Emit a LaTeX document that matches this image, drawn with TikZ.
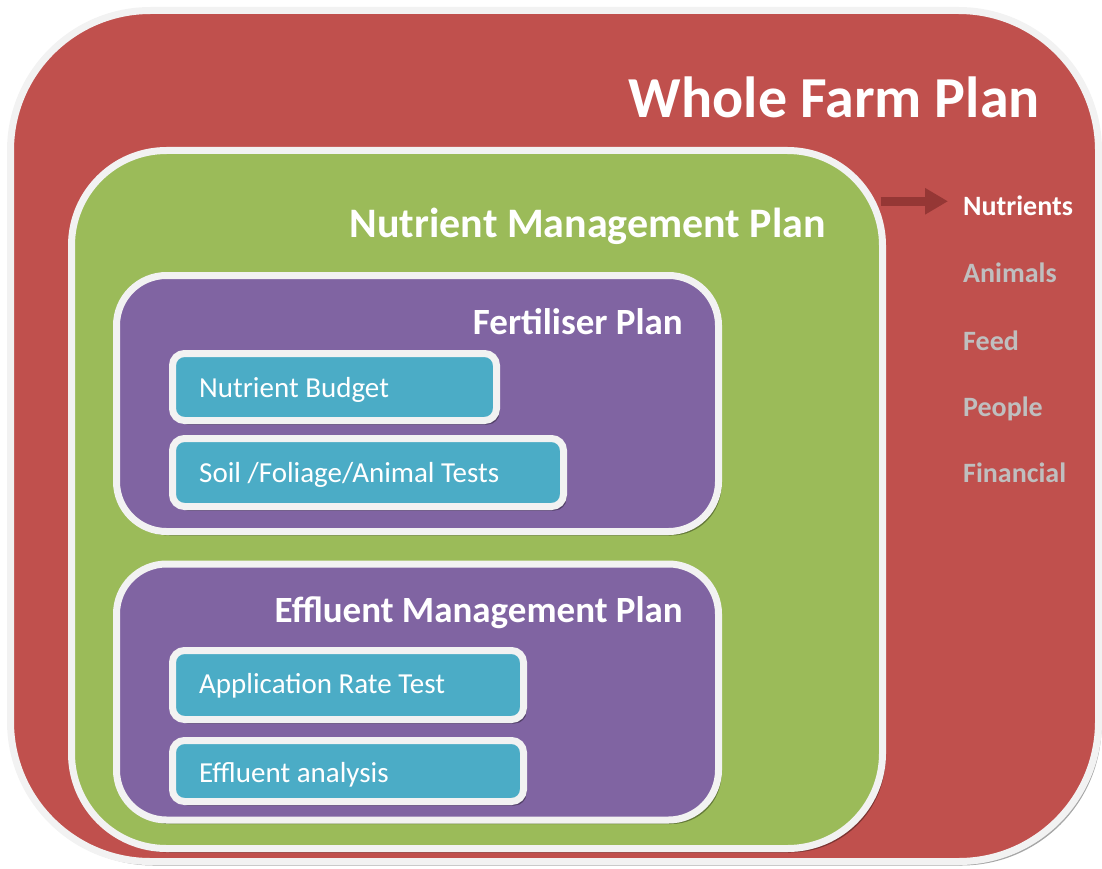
\documentclass[tikz,border=0pt]{standalone}
\usepackage{fontspec}
\setmainfont{Carlito}
\usepackage{tikz}
\usetikzlibrary{positioning,shadows,arrows.meta}

\definecolor{farmred}{HTML}{C0504D}
\definecolor{nutgreen}{HTML}{9BBB59}
\definecolor{planpurple}{HTML}{8064A2}
\definecolor{taskteal}{HTML}{4BACC6}
\definecolor{rim}{HTML}{F2F2F2}
\definecolor{dimtext}{HTML}{BFBFBF}
\definecolor{arrowred}{HTML}{953735}

\begin{document}
\begin{tikzpicture}[x=1pt,y=-1pt,
        plan/.style={draw=rim, line width=7pt, rounded corners=#1, inner sep=0pt, outer sep=0pt,
                     drop shadow={shadow xshift=3pt, shadow yshift=-4pt, fill=black, opacity=.35}},
        task/.style={plan=12pt, fill=taskteal},
        title/.style={text=white, font=\bfseries, anchor=base east, inner sep=0pt},
        tasktext/.style={text=white, font=\fontsize{29}{31}\selectfont, anchor=base west, inner sep=0pt},
        item/.style={text=dimtext, font=\bfseries\fontsize{28}{30}\selectfont, anchor=base west, inner sep=0pt}]
        \useasboundingbox (0,0) rectangle (1102,869);

        % boxes
        \node[plan=140pt, fill=farmred,    minimum width=1088pt, minimum height=851pt] (wfp) at (554.5,436)   {};
        \node[plan=95pt,  fill=nutgreen,   minimum width=811pt,  minimum height=698pt] (nmp) at (477,499.5)   {};
        \node[plan=50pt,  fill=planpurple, minimum width=602pt,  minimum height=256pt] (fp)  at (417.5,403.5) {};
        \node[plan=50pt,  fill=planpurple, minimum width=602pt,  minimum height=256pt] (emp) at (417.5,692)   {};

        \node[task, minimum width=324pt, minimum height=67pt] (nb)  at (334.5,387)   {};
        \node[task, minimum width=391pt, minimum height=68pt] (sft) at (368,472.5)   {};
        \node[task, minimum width=351pt, minimum height=69pt] (art) at (348,685)     {};
        \node[task, minimum width=351pt, minimum height=61pt] (ea)  at (348,771)     {};

        % titles
        \node[title, font=\bfseries\fontsize{58}{60}\selectfont] (wfp_t) at (1040,118) {Whole Farm Plan};
        \node[title, font=\bfseries\fontsize{42}{44}\selectfont] (nmp_t) at (826,237)  {Nutrient Management Plan};
        \node[title, font=\bfseries\fontsize{37}{39}\selectfont] (fp_t)  at (683,334)  {Fertiliser Plan};
        \node[title, font=\bfseries\fontsize{37}{39}\selectfont] (emp_t) at (683,622)  {Effluent Management Plan};

        % tasks
        \node[tasktext] (nb_t)  at (199,397) {Nutrient Budget};
        \node[tasktext] (sft_t) at (199,482) {Soil /Foliage/Animal Tests};
        \node[tasktext] (art_t) at (199,693) {Application Rate Test};
        \node[tasktext] (ea_t)  at (199,782) {Effluent analysis};

        % side list
        \node[item, text=white] (nutr) at (963,215) {Nutrients};
        \foreach \name/\y/\txt in {anim/282/Animals, feed/350/Feed, ppl/416/People, fin/482/Financial}
            \node[item] (\name) at (963,\y) {\txt};

        \draw[arrowred, line width=9pt, -{Triangle[length=23pt,width=25pt]}, shorten >=15pt, shorten <=-2pt]
            ([yshift=4pt]nmp.east |- nutr.west) -- ([yshift=4pt]nutr.west);
\end{tikzpicture}
\end{document}
